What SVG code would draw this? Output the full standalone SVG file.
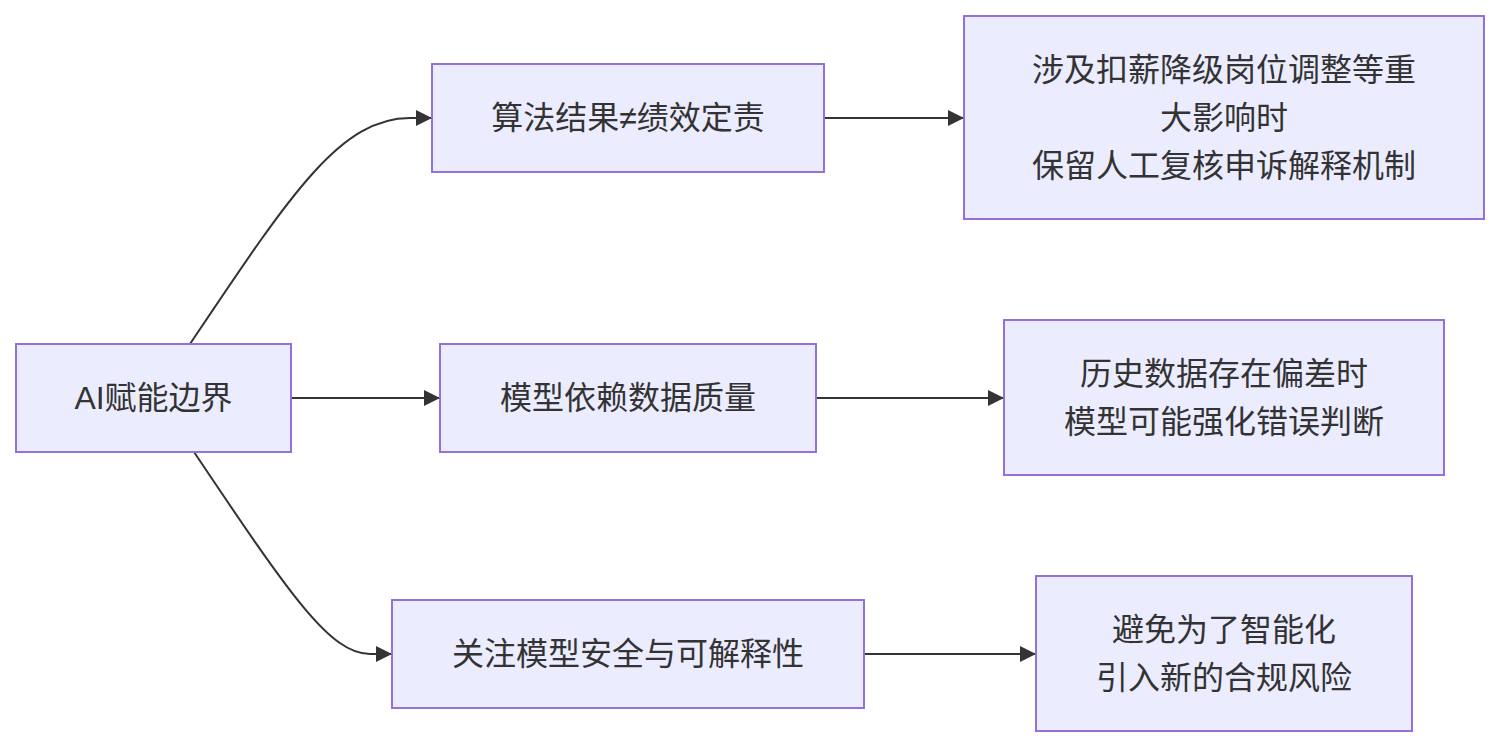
<svg xmlns="http://www.w3.org/2000/svg" width="1499" height="748" viewBox="0 0 1499 748">
<style>
.node rect{fill:#ECECFF;stroke:#9370DB;stroke-width:2}
.node text{font-family:"Liberation Sans","Noto Sans CJK SC",sans-serif;font-size:32px;fill:#333;text-anchor:middle;dominant-baseline:central}
.edges path{fill:none;stroke:#333;stroke-width:2}
</style>
<defs>
<marker id="arr" viewBox="0 0 16 16" refX="16" refY="8" markerWidth="16" markerHeight="16" markerUnits="userSpaceOnUse" orient="auto">
<path d="M0,0 L16,8 L0,16 z" fill="#333"/>
</marker>
</defs>
<rect width="1499" height="748" fill="#fff"/>
<g class="edges">
<path d="M190,344 C290,195 340,118 410,118 L432,118" marker-end="url(#arr)"/>
<path d="M291,398 L440,398" marker-end="url(#arr)"/>
<path d="M194,452 C290,595 330,654 370,654 L392,654" marker-end="url(#arr)"/>
<path d="M824,118 L964,118" marker-end="url(#arr)"/>
<path d="M816,398 L1004,398" marker-end="url(#arr)"/>
<path d="M864,654 L1036,654" marker-end="url(#arr)"/>
</g>
<g id="A" class="node"><rect x="16" y="344" width="275" height="108"/><text x="153.5" y="398">AI赋能边界</text></g>
<g id="B" class="node"><rect x="432" y="64" width="392" height="108"/><text x="628" y="118">算法结果≠绩效定责</text></g>
<g id="C" class="node"><rect x="440" y="344" width="376" height="108"/><text x="628" y="398">模型依赖数据质量</text></g>
<g id="D" class="node"><rect x="392" y="600" width="472" height="108"/><text x="628" y="654">关注模型安全与可解释性</text></g>
<g id="E" class="node"><rect x="964" y="16" width="520" height="203"/><text x="1224" y="70">涉及扣薪降级岗位调整等重</text><text x="1224" y="118">大影响时</text><text x="1224" y="166">保留人工复核申诉解释机制</text></g>
<g id="F" class="node"><rect x="1004" y="320" width="440" height="155"/><text x="1224" y="374">历史数据存在偏差时</text><text x="1224" y="422">模型可能强化错误判断</text></g>
<g id="G" class="node"><rect x="1036" y="576" width="376" height="155"/><text x="1224" y="630">避免为了智能化</text><text x="1224" y="678">引入新的合规风险</text></g>
</svg>
